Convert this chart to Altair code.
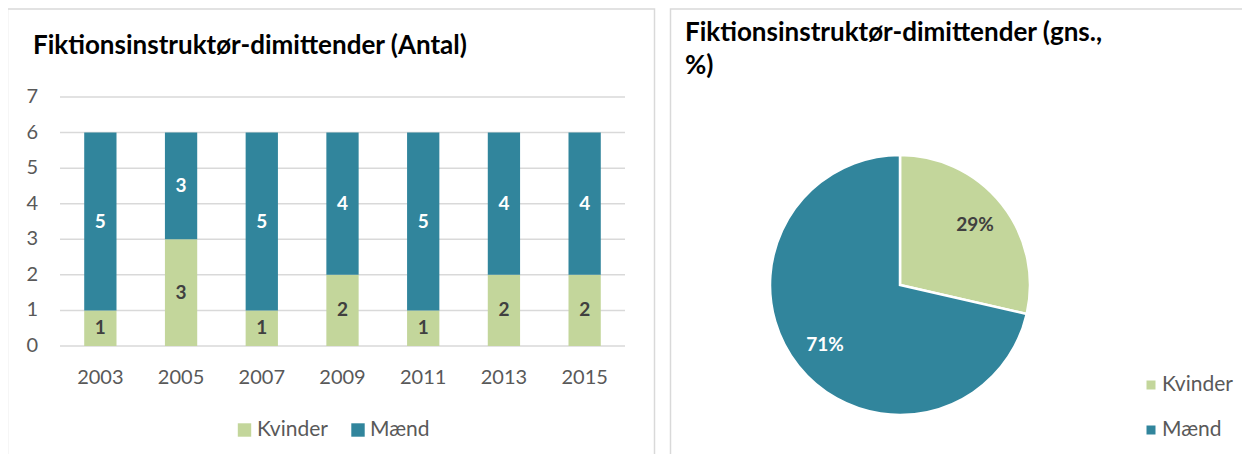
import altair as alt
import pandas as pd

# ---- data ----
years = ["2003", "2005", "2007", "2009", "2011", "2013", "2015"]
kvinder = [1, 3, 1, 2, 1, 2, 2]
maend = [5, 3, 5, 4, 5, 4, 4]
groups = ["Kvinder", "Mænd"]
colors = ["#c3d69b", "#31859c"]
y_ticks = [0, 1, 2, 3, 4, 5, 6, 7]
title_left = "Fiktionsinstruktør-dimittender (Antal)"
title_right_1 = "Fiktionsinstruktør-dimittender (gns.,"
title_right_2 = "%)"

FONT = "Lato"
GRAY = "#595959"
DARK = "#404040"

rows = []
for i, y in enumerate(years):
    rows.append({"year": y, "group": groups[0], "ord": 0, "count": kvinder[i]})
    rows.append({"year": y, "group": groups[1], "ord": 1, "count": maend[i]})
bars_df = pd.DataFrame(rows)

tot_k, tot_m = sum(kvinder), sum(maend)
tot = tot_k + tot_m
pie_df = pd.DataFrame({
    "group": groups,
    "ord": [0, 1],
    "val": [tot_k, tot_m],
    "label": [f"{round(100 * tot_k / tot)}%", f"{round(100 * tot_m / tot)}%"],
})
ticks_df = pd.DataFrame({"v": y_ticks})
years_df = pd.DataFrame({"year": years})
legend_df = pd.DataFrame({"group": groups})
one = pd.DataFrame({"a": [0]})

xscale = alt.Scale(domain=years, range=[52, 617], paddingInner=0.6, paddingOuter=0.3)
yscale = alt.Scale(domain=[0, 7], range=[338, 89], nice=False, zero=True)
cscale = alt.Scale(domain=groups, range=colors)


def panel(x0, x1):
    return alt.Chart(one).mark_rect(
        fill="white", stroke="#d9d9d9", strokeWidth=1.5
    ).encode(x=alt.value(x0), x2=alt.value(x1), y=alt.value(1), y2=alt.value(480))


panels = panel(-0.5, 646.5) + panel(662.5, 1260)

grid = alt.Chart(ticks_df).mark_rule(color="#d9d9d9", strokeWidth=1.5).encode(
    y=alt.Y("v:Q", scale=yscale, axis=None),
    x=alt.value(52),
    x2=alt.value(617),
)

ylabels = alt.Chart(ticks_df).mark_text(
    align="right", baseline="middle", font=FONT, fontSize=20, color=GRAY
).encode(
    y=alt.Y("v:Q", scale=yscale, axis=None),
    x=alt.value(30),
    text="v:Q",
)

bars = alt.Chart(bars_df).mark_bar().encode(
    x=alt.X("year:N", scale=xscale, axis=None),
    y=alt.Y("count:Q", stack="zero", scale=yscale, axis=None),
    color=alt.Color("group:N", scale=cscale, legend=None),
    order=alt.Order("ord:Q"),
)

bar_text = alt.Chart(bars_df).transform_stack(
    stack="count", groupby=["year"], as_=["y0", "y1"], sort=[alt.SortField("ord")]
).transform_calculate(
    mid="(datum.y0 + datum.y1) / 2"
).mark_text(
    font=FONT, fontSize=19, fontWeight="bold", baseline="middle", align="center"
).encode(
    x=alt.X("year:N", scale=xscale, axis=None),
    y=alt.Y("mid:Q", scale=yscale, axis=None),
    text="count:Q",
    color=alt.condition(alt.datum.group == "Mænd", alt.value("white"), alt.value(DARK)),
)

xlabels = alt.Chart(years_df).mark_text(
    font=FONT, fontSize=20, color=GRAY, baseline="middle", align="center"
).encode(
    x=alt.X("year:N", scale=xscale, axis=None),
    y=alt.value(370),
    text="year:N",
)


def title(t, x, y):
    return alt.Chart(pd.DataFrame({"t": [t]})).mark_text(
        font=FONT, fontSize=26, fontWeight="bold", color="black",
        align="left", baseline="middle"
    ).encode(x=alt.value(x), y=alt.value(y), text="t:N")


titles = title(title_left, 25, 38) + title(title_right_1, 677, 25) + title(title_right_2, 677, 58)


def legend_item(g, sx, tx, y, size):
    sq = alt.Chart(legend_df).transform_filter(alt.datum.group == g).mark_square(
        size=size, opacity=1
    ).encode(
        x=alt.value(sx), y=alt.value(y),
        color=alt.Color("group:N", scale=cscale, legend=None),
    )
    tx_ = alt.Chart(legend_df).transform_filter(alt.datum.group == g).mark_text(
        font=FONT, fontSize=21, color=GRAY, align="left", baseline="middle"
    ).encode(x=alt.value(tx), y=alt.value(y), text="group:N")
    return sq + tx_


leg_l = legend_item("Kvinder", 236.5, 249, 422, 180) + legend_item("Mænd", 350, 362, 422, 180)
leg_r = legend_item("Kvinder", 1143, 1154, 377, 81) + legend_item("Mænd", 1143, 1154, 422, 81)

pie = alt.Chart(pie_df).mark_arc(outerRadius=130, stroke="white", strokeWidth=2.5).encode(
    theta=alt.Theta("val:Q", stack=True),
    color=alt.Color("group:N", scale=cscale, legend=None),
    order=alt.Order("ord:Q"),
    x=alt.value(892),
    y=alt.value(277),
)

pie_text = alt.Chart(pie_df).mark_text(
    radius=96, font=FONT, fontSize=19, fontWeight="bold"
).encode(
    theta=alt.Theta("val:Q", stack=True),
    order=alt.Order("ord:Q"),
    text="label:N",
    x=alt.value(892),
    y=alt.value(277),
    color=alt.condition(alt.datum.group == "Mænd", alt.value("white"), alt.value(DARK)),
)

chart = alt.layer(
    panels, grid, ylabels, bars, bar_text, xlabels, titles,
    leg_l, leg_r, pie, pie_text
).properties(
    width=1234, height=446, padding=0, autosize="none"
).configure_view(stroke=None)

chart.save("out.html", embed_options={"renderer": "svg", "actions": False})
